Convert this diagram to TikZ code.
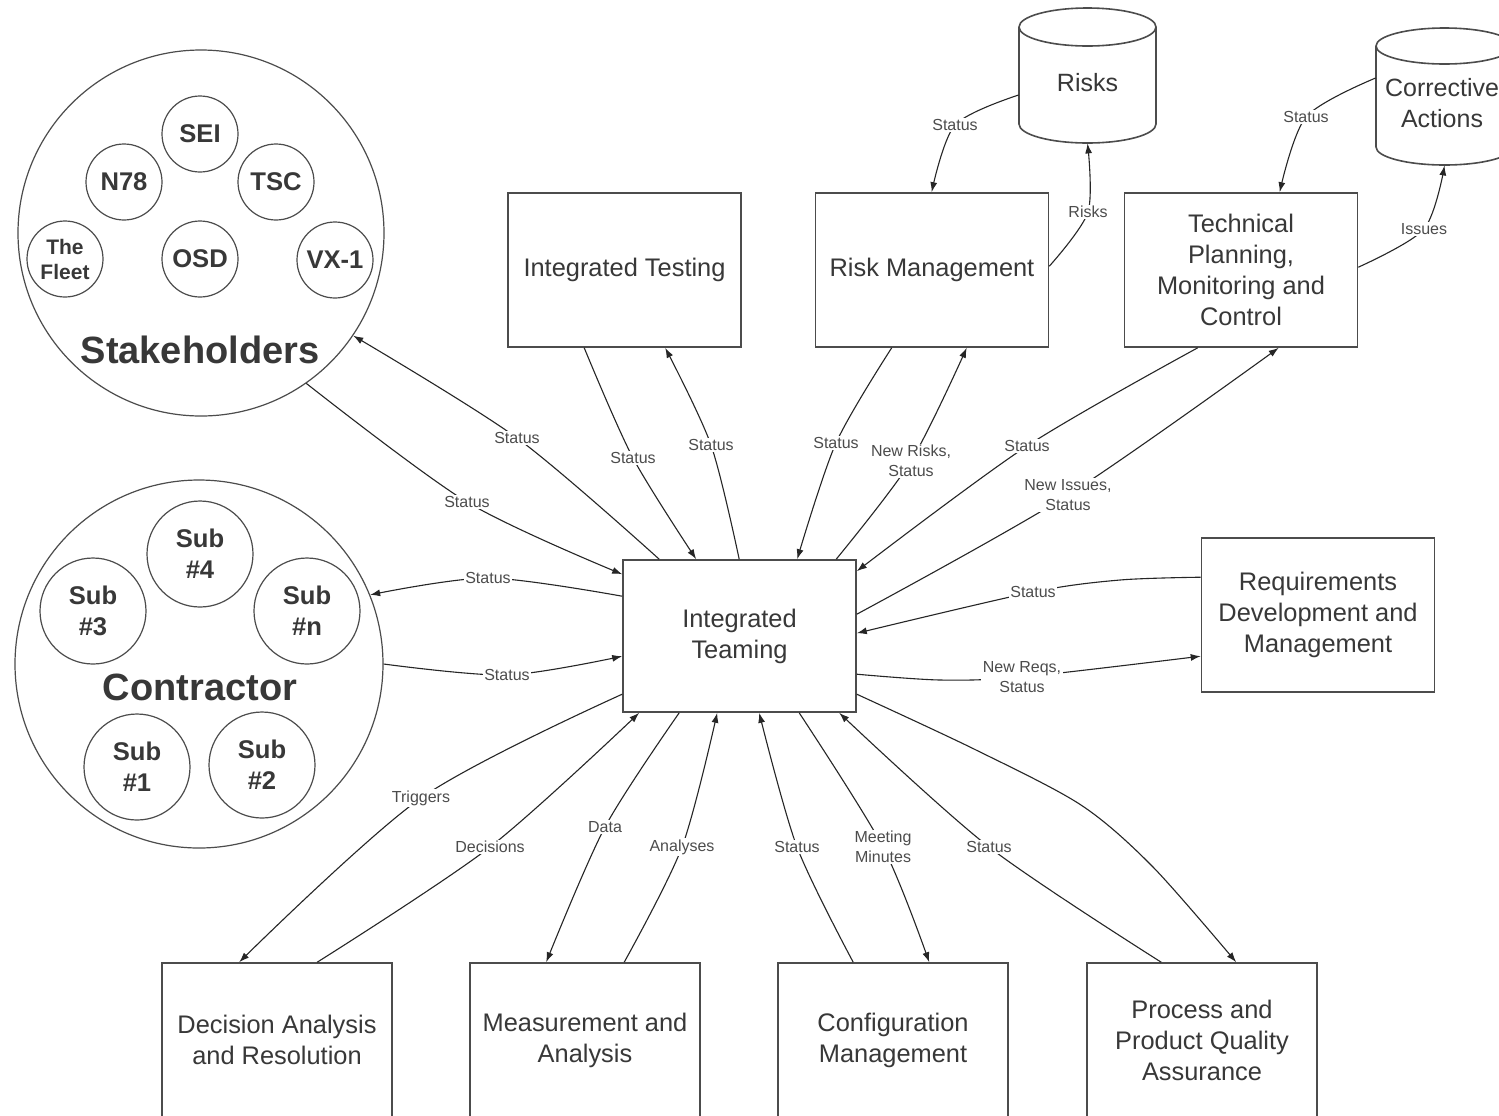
\documentclass[tikz,border=0pt]{standalone}
\usepackage{fontspec}
\setmainfont{Liberation Sans}
\usetikzlibrary{arrows.meta,calc}
\begin{document}
\begin{tikzpicture}[x=0.5pt,y=-0.5pt,
  box/.style={draw=black!70, line width=0.8pt, minimum width=116.5pt, minimum height=77pt, inner sep=2pt, align=center, font=\fontsize{12.7}{15.5}\selectfont, text=black!78},
  bbox/.style={box, minimum width=115pt},
  ring/.style={circle, draw=black!70, line width=0.6pt, inner sep=0pt, align=center, text=black!78},
  sm/.style={ring, minimum size=38pt, font=\bfseries\fontsize{12.8}{15.5}\selectfont},
  subc/.style={ring, minimum size=53pt, font=\bfseries\fontsize{12.8}{15.5}\selectfont},
  big/.style={ring, minimum size=183pt},
  bigtxt/.style={font=\bfseries\fontsize{19}{22}\selectfont, text=black!78, inner sep=0pt},
  cyl/.style={draw=black!70, line width=0.8pt},
  cyltext/.style={align=center, font=\fontsize{12.5}{15.5}\selectfont, text=black!78, inner sep=0pt},
  conn/.style={draw=black!85, line width=0.55pt, -{Latex[length=5pt,width=3.5pt]}},
  lbl/.style={fill=white, inner sep=0.8pt, align=center, font=\fontsize{8}{10}\selectfont, text=black!70}]
\useasboundingbox (0,0) rectangle (1499,1115);
\fill[white] (0,0) rectangle (1499,1115);
\clip (0,0) rectangle (1499,1115);

% Stakeholders
\node[big] (Stk) at (201,233) {};
\node[sm] (sei) at (200,134) {SEI};
\node[sm] (n78) at (124,182) {N78};
\node[sm] (tsc) at (276,182) {TSC};
\node[sm, font=\bfseries\fontsize{10.5}{12.5}\selectfont] (fleet) at (65,259) {The\\Fleet};
\node[sm] (osd) at (200,259) {OSD};
\node[sm] (vx1) at (335,260) {VX-1};
\node[bigtxt] (stkT) at (200,350) {Stakeholders};

% Contractor
\node[big, minimum size=184pt] (Con) at (199,664) {};
\node[subc] (sub4) at (200,554) {Sub\\\#4};
\node[subc] (sub3) at (93,611) {Sub\\\#3};
\node[subc] (subn) at (307,611) {Sub\\\#n};
\node[subc] (sub1) at (137,767) {Sub\\\#1};
\node[subc] (sub2) at (262,765) {Sub\\\#2};
\node[bigtxt] (conT) at (200,687) {Contractor};

% Boxes
\node[box] (IntT) at (624.5,270) {Integrated Testing};
\node[box] (RM) at (932,270) {Risk Management};
\node[box] (TP) at (1241,270) {Technical\\Planning,\\Monitoring and\\Control};
\node[box, minimum height=76pt] (IT) at (739.5,636) {Integrated\\Teaming};
\node[box] (Req) at (1318,615) {Requirements\\Development and\\Management};
\node[bbox] (DA) at (277,1040) {Decision Analysis\\and Resolution};
\node[bbox] (MA) at (585,1040) {Measurement and\\Analysis};
\node[bbox] (CM) at (893,1040) {Configuration\\Management};
\node[bbox] (PPQA) at (1202,1040) {Process and\\Product Quality\\Assurance};

% Cylinders
\node[minimum width=68.5pt, minimum height=67.5pt, inner sep=0pt] (risks) at (1087.5,75.5) {};
\draw[cyl] (1019,27) -- (1019,124) arc[start angle=180,end angle=0,x radius=68.5,y radius=19] -- (1156,27);
\draw[cyl] (1087.5,27) ellipse [x radius=68.5, y radius=19];
\node[cyltext] (risksT) at (1087.5,83) {Risks};
\node[minimum width=68.5pt, minimum height=68.5pt, inner sep=0pt] (CA) at (1444.5,96.5) {};
\draw[cyl] (1376,46) -- (1376,147) arc[start angle=180,end angle=0,x radius=68.5,y radius=18] -- (1513,46);
\draw[cyl] (1444.5,46) ellipse [x radius=68.5, y radius=18];
\node[cyltext] (CAT) at (1442,103) {Corrective\\Actions};

% Connectors: stakeholders / contractor
\draw[conn] plot[smooth] coordinates {($(IT.north west)+(37,0)$) (517,438) (Stk.-34)};
\draw[conn] plot[smooth] coordinates {(Stk.-55) (467,502) ($(IT.north west)+(0,15)$)};
\draw[conn] plot[smooth] coordinates {($(IT.north west)+(0,37)$) (488,578) (Con.22)};
\draw[conn] plot[smooth] coordinates {(Con.0) (507,675) ($(IT.north west)+(0,97)$)};
% top boxes
\draw[conn] plot[smooth] coordinates {($(IntT.south west)+(77,0)$) (633,458) ($(IT.north west)+(74,0)$)};
\draw[conn] plot[smooth] coordinates {($(IT.north west)+(117,0)$) (711,445) ($(IntT.south west)+(158,0)$)};
\draw[conn] plot[smooth] coordinates {($(RM.south west)+(77,0)$) (836,443) ($(IT.north west)+(175,0)$)};
\draw[conn] plot[smooth] coordinates {($(IT.north west)+(214,0)$) (911,461) ($(RM.south west)+(152,0)$)};
\draw[conn] plot[smooth] coordinates {($(TP.south west)+(74,0)$) (1027,446) ($(IT.north east)+(0,12)$)};
\draw[conn] plot[smooth] coordinates {($(IT.north east)+(0,55)$) (1068,495) ($(TP.south west)+(155,0)$)};
% requirements
\draw[conn] plot[smooth] coordinates {($(Req.north west)+(0,40)$) (1120,580) (1033,592) ($(IT.north east)+(0,74)$)};
\draw[conn] plot[smooth] coordinates {($(IT.north east)+(0,115)$) (940,680) (1022,677) ($(Req.north west)+(0,119)$)};
% cylinders
\draw[conn] plot[smooth] coordinates {($(RM.north east)+(0,74)$) (1088,212) (risks.south)};
\draw[conn] plot[smooth] coordinates {($(risks.west)+(0,19.5)$) (955,125) ($(RM.north west)+(117,0)$)};
\draw[conn] plot[smooth] coordinates {($(TP.north east)+(0,75)$) (1424,229) (CA.south)};
\draw[conn] plot[smooth] coordinates {($(CA.west)+(0,-18.5)$) (1306,117) ($(TP.north west)+(156,0)$)};
% bottom
\draw[conn] plot[smooth] coordinates {($(IT.north west)+(0,135)$) (421,798) ($(DA.north west)+(78,0)$)};
\draw[conn] plot[smooth] coordinates {($(DA.north west)+(156,0)$) (490,847) ($(IT.south west)+(17,0)$)};
\draw[conn] plot[smooth] coordinates {($(IT.south west)+(57,0)$) (605,827) ($(MA.north west)+(77,0)$)};
\draw[conn] plot[smooth] coordinates {($(MA.north west)+(155,0)$) (682,847) ($(IT.south west)+(95,0)$)};
\draw[conn] plot[smooth] coordinates {($(CM.north west)+(76,0)$) (797,847) ($(IT.south west)+(137,0)$)};
\draw[conn] plot[smooth] coordinates {($(IT.south west)+(177,0)$) (883,847) ($(CM.north west)+(152,0)$)};
\draw[conn] plot[smooth] coordinates {($(PPQA.north west)+(75,0)$) (989,847) ($(IT.south west)+(217,0)$)};
\draw[conn] plot[smooth] coordinates {($(IT.north east)+(0,135)$) (974,749) (1081,805) (1153,867) ($(PPQA.north west)+(150,0)$)};

% Labels
\node[lbl] (l1) at (517,438) {Status};
\node[lbl] (l2) at (467,502) {Status};
\node[lbl] (l3) at (488,578) {Status};
\node[lbl] (l4) at (507,675) {Status};
\node[lbl] (l5) at (633,458) {Status};
\node[lbl] (l6) at (711,445) {Status};
\node[lbl] (l7) at (836,443) {Status};
\node[lbl] (l8) at (911,461) {New Risks,\\Status};
\node[lbl] (l9) at (1027,446) {Status};
\node[lbl] (l10) at (1068,495) {New Issues,\\Status};
\node[lbl] (l11) at (1033,592) {Status};
\node[lbl] (l12) at (1022,677) {New Reqs,\\Status};
\node[lbl] (l13) at (1088,212) {Risks};
\node[lbl] (l14) at (955,125) {Status};
\node[lbl] (l15) at (1424,229) {Issues};
\node[lbl] (l16) at (1306,117) {Status};
\node[lbl] (l17) at (421,798) {Triggers};
\node[lbl] (l18) at (490,847) {Decisions};
\node[lbl] (l19) at (605,827) {Data};
\node[lbl] (l20) at (682,847) {Analyses};
\node[lbl] (l21) at (797,847) {Status};
\node[lbl] (l22) at (883,847) {Meeting\\Minutes};
\node[lbl] (l23) at (989,847) {Status};
\end{tikzpicture}
\end{document}
